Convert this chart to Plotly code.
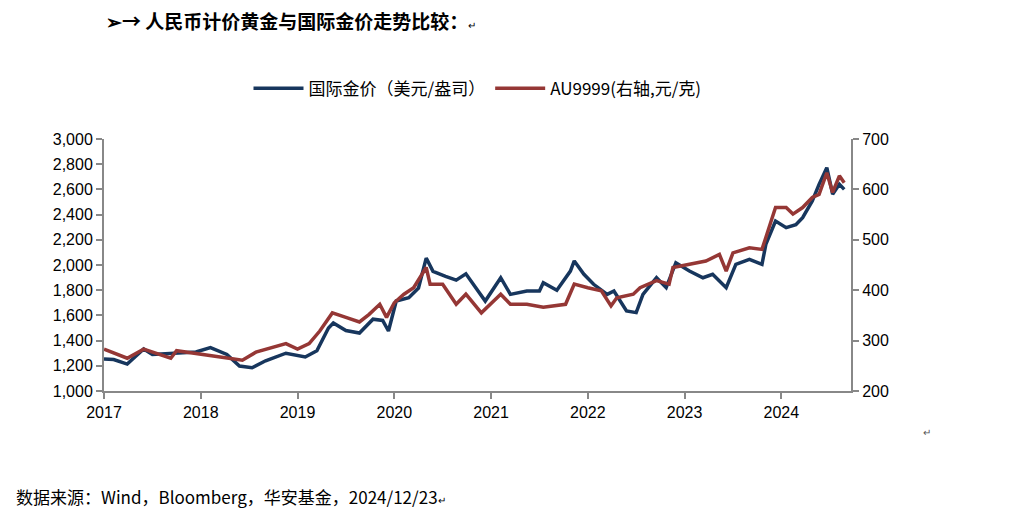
import plotly.graph_objects as go

# gold, USD/oz (left axis)
gold_t = [2017.0, 2017.1, 2017.24, 2017.41, 2017.5, 2017.77, 2017.95, 2018.1, 2018.27, 2018.4, 2018.53,
          2018.67, 2018.88, 2019.08, 2019.2, 2019.32, 2019.37, 2019.5, 2019.64, 2019.78, 2019.88, 2019.94,
          2020.02, 2020.15, 2020.25, 2020.33, 2020.4, 2020.53, 2020.64, 2020.74, 2020.84, 2020.94, 2021.1,
          2021.2, 2021.37, 2021.5, 2021.54, 2021.68, 2021.82, 2021.86, 2021.96, 2022.06, 2022.2, 2022.27,
          2022.4, 2022.5, 2022.57, 2022.71, 2022.81, 2022.91, 2023.05, 2023.19, 2023.29, 2023.43, 2023.53,
          2023.67, 2023.8, 2023.84, 2023.94, 2024.05, 2024.15, 2024.22, 2024.32, 2024.39, 2024.47, 2024.53,
          2024.6, 2024.65]
gold_v = [1254, 1250, 1214, 1333, 1290, 1300, 1310, 1344, 1290, 1198, 1185,
          1240, 1300, 1270, 1320, 1500, 1540, 1480, 1460, 1570, 1560, 1476,
          1714, 1740, 1817, 2055, 1950, 1910, 1880, 1930, 1817, 1714, 1899,
          1767, 1794, 1794, 1860, 1800, 1952, 2032, 1926, 1847, 1767, 1794,
          1635, 1622, 1767, 1899, 1820, 2018, 1952, 1899, 1926, 1820, 2005,
          2045, 2005, 2164, 2349, 2296, 2320, 2376, 2508, 2640, 2772, 2562,
          2640, 2600]

# AU9999, CNY/g (right axis)
au_t = [2017.0, 2017.24, 2017.41, 2017.69, 2017.75, 2017.99, 2018.33, 2018.43, 2018.57, 2018.88, 2019.0,
        2019.12, 2019.23, 2019.36, 2019.5, 2019.64, 2019.74, 2019.85, 2019.92, 2020.0, 2020.1, 2020.2,
        2020.33, 2020.37, 2020.5, 2020.64, 2020.74, 2020.9, 2021.1, 2021.2, 2021.37, 2021.54, 2021.77,
        2021.86, 2022.0, 2022.14, 2022.24, 2022.3, 2022.47, 2022.54, 2022.71, 2022.84, 2022.88, 2023.05,
        2023.22, 2023.36, 2023.43, 2023.5, 2023.67, 2023.8, 2023.84, 2023.94, 2024.05, 2024.12, 2024.22,
        2024.32, 2024.39, 2024.47, 2024.53, 2024.6, 2024.65]
au_v = [283, 265, 283, 265, 280, 273, 264, 261, 277, 294, 283,
        294, 319, 355, 346, 337, 352, 372, 346, 375, 392, 405,
        445, 412, 412, 372, 392, 355, 392, 372, 372, 366, 372,
        412, 405, 399, 369, 385, 392, 405, 419, 412, 445, 451,
        458, 471, 438, 474, 484, 481, 504, 564, 564, 551, 564,
        584, 590, 633, 594, 627, 613]

years = [2017, 2018, 2019, 2020, 2021, 2022, 2023, 2024]

fig = go.Figure()
fig.add_trace(go.Scatter(x=gold_t, y=gold_v, mode='lines', name='国际金价（美元/盎司）',
                         line=dict(color='#17365d', width=3.5)))
fig.add_trace(go.Scatter(x=au_t, y=au_v, mode='lines', name='AU9999(右轴,元/克)', yaxis='y2',
                         line=dict(color='#953735', width=3.5)))

axis_common = dict(showgrid=False, zeroline=False, showline=True, linecolor='#888888', linewidth=2,
                   ticks='outside', tickcolor='#888888', ticklen=6, tickwidth=2,
                   tickfont=dict(size=16, color='#000000', family='Liberation Sans'))

fig.update_layout(
    width=1010, height=530,
    margin=dict(l=96, r=167, t=131, b=147),
    plot_bgcolor='white', paper_bgcolor='white',
    font=dict(family='Noto Sans CJK SC, Liberation Sans, sans-serif', color='#000000'),
    xaxis=dict(range=[2017, 2024.72], tickvals=years, ticktext=[str(y) for y in years], **axis_common),
    yaxis=dict(range=[1000, 3000], dtick=200, tickformat=',', **axis_common),
    yaxis2=dict(range=[200, 700], dtick=100, overlaying='y', side='right', **axis_common),
    legend=dict(orientation='h', x=0.5, xanchor='center', y=1.2, yanchor='middle',
                font=dict(size=17), itemwidth=50),
    showlegend=True,
)

fig.add_annotation(text='<b>➢→ 人民币计价黄金与国际金价走势比较：</b><span style="font-size:10px">↵</span>',
                   xref='paper', yref='paper', x=0.0, xanchor='left', y=1.47, yanchor='middle',
                   showarrow=False, font=dict(size=19, family='Noto Sans CJK SC'))
fig.add_annotation(text='数据来源：Wind，Bloomberg，华安基金，2024/12/23<span style="font-size:10px">↵</span>',
                   xref='paper', yref='paper', x=-0.12, xanchor='left', y=-0.42, yanchor='middle',
                   showarrow=False, font=dict(size=17, family='Noto Sans CJK SC'))
fig.add_annotation(text='↵', xref='paper', yref='paper', x=1.11, y=-0.2, showarrow=False,
                   font=dict(size=10, color='#555555'))

fig.write_html("out.html")
